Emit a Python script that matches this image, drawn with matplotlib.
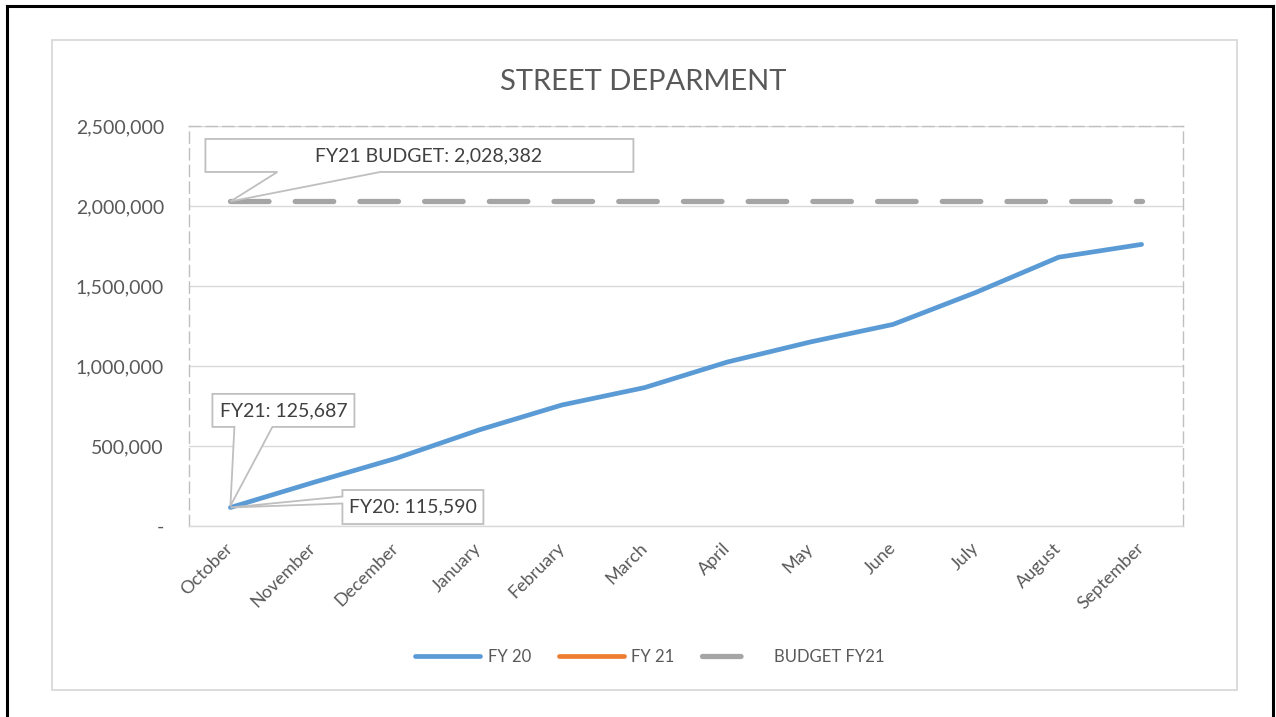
import matplotlib
matplotlib.use("Agg")
import matplotlib.pyplot as plt
import matplotlib.transforms as mtransforms
from matplotlib.lines import Line2D
from matplotlib.patches import Polygon, Rectangle
import numpy as np

# ---------------- data ----------------
months = ["October", "November", "December", "January", "February", "March",
          "April", "May", "June", "July", "August", "September"]
fy20 = [115590, 272000, 423000, 600000, 756000, 865000,
        1025000, 1150000, 1260000, 1460000, 1680000, 1760000]
fy21 = [125687, None, None, None, None, None, None, None, None, None, None, None]
budget_fy21 = [2028382] * 12
yticks = [0, 500000, 1000000, 1500000, 2000000, 2500000]
ytick_labels = ["-", "500,000", "1,000,000", "1,500,000", "2,000,000", "2,500,000"]
title = "STREET DEPARMENT"
series_names = ["FY 20", "FY 21", "BUDGET FY21"]
label_budget = "FY21 BUDGET: 2,028,382"
label_fy21 = "FY21: 125,687"
label_fy20 = "FY20: 115,590"

# ---------------- style ----------------
FONT = "Lato"
plt.rcParams["font.family"] = [FONT, "DejaVu Sans"]
BLUE = "#5B9BD5"
ORANGE = "#ED7D31"
GRAY = "#A5A5A5"
TXT = "#595959"
GRID = "#D9D9D9"

W, H, DPI = 1276, 717, 100
fig = plt.figure(figsize=(W / DPI, H / DPI), dpi=DPI)
fig.patch.set_facecolor("white")

def fx(px):
    return px / W

def fy(py):
    return 1 - py / H

# outer black frame (open at bottom)
for xs, ys in [((7, 7), (6, 717)), ((7, 1273), (6, 6)), ((1273, 1273), (6, 717))]:
    fig.add_artist(Line2D([fx(x) for x in xs], [fy(y) for y in ys],
                          transform=fig.transFigure, color="black", lw=2.2))
# chart area border
fig.add_artist(Rectangle((fx(52), fy(690)), fx(1237) - fx(52), fy(40) - fy(690),
                         transform=fig.transFigure, fill=False, ec=GRID, lw=1.3))

ax = fig.add_axes([fx(189), fy(526), fx(1183) - fx(189), fy(126) - fy(526)])
ax.set_facecolor("none")

x = np.arange(len(months))
ax.set_xlim(-0.5, len(months) - 0.5)
ax.set_ylim(0, 2500000)

# gridlines
ax.set_yticks(yticks)
ax.set_yticklabels(ytick_labels)
ax.yaxis.grid(True, color=GRID, lw=1.0)
ax.set_axisbelow(True)
ax.tick_params(axis="y", length=0, pad=18, labelsize=14, labelcolor=TXT)
ax.set_xticks(x)
ax.set_xticklabels(months, rotation=45, ha="right", va="center",
                   rotation_mode="anchor")
ax.tick_params(axis="x", length=0, pad=14, labelsize=13, labelcolor=TXT)

for side in ["top", "left", "right"]:
    ax.spines[side].set_color("#BFBFBF")
    ax.spines[side].set_linewidth(1.0)
    ax.spines[side].set_linestyle((0, (8, 4)))
ax.spines["bottom"].set_color(GRID)
ax.spines["bottom"].set_linewidth(1.0)

# series
lw = 3.4
l20, = ax.plot(x, fy20, color=BLUE, lw=lw, solid_capstyle="round",
               solid_joinstyle="round", zorder=4)
fy21_arr = np.array([np.nan if v is None else v for v in fy21], dtype=float)
l21, = ax.plot(x, fy21_arr, color=ORANGE, lw=lw, solid_capstyle="round", zorder=3)
lb, = ax.plot(x, budget_fy21, color=GRAY, lw=3.8, linestyle=(0, (7.3, 4.96)),
              dash_capstyle="round", zorder=3)

# ---------------- callouts ----------------
BOXC = "#BFBFBF"
LBLC = "#404040"

def callout(xd, yd, pts, text_off, text):
    """pts: polygon in pixel offsets (x right, y up) from the data anchor."""
    tr = mtransforms.Affine2D() + mtransforms.ScaledTranslation(xd, yd, ax.transData)
    poly = Polygon(pts, closed=True, transform=tr, fc="white", ec=BOXC,
                   lw=1.3, zorder=6, clip_on=False)
    ax.add_patch(poly)
    ax.text(text_off[0], text_off[1], text, transform=tr, ha="center",
            va="center", fontsize=14, color=LBLC, zorder=7, clip_on=False)

# budget callout
callout(0, budget_fy21[0],
        [(0, 0), (47, 29.5), (-25, 29.5), (-25, 62.5), (403, 62.5),
         (403, 29.5), (150, 29.5)],
        (198, 46), label_budget)
# FY21 callout
callout(0, fy21[0],
        [(0, 0), (4, 79), (-18, 79), (-18, 112), (124, 112), (124, 79),
         (42, 79)],
        (53, 95.5), label_fy21)
# FY20 callout
callout(0, fy20[0],
        [(0, 0), (112, 4), (112, -16.5), (253, -16.5), (253, 17.5),
         (112, 17.5), (112, 11)],
        (182.5, 0.5), label_fy20)

# title
fig.text(fx(643), fy(82), title, ha="center", va="center", fontsize=21, color=TXT)

# legend (budget handle shows a single dash, as in the original)
lb_handle = Line2D([], [], color=GRAY, lw=3.8, linestyle=(0, (7.3, 12)),
                   dash_capstyle="round")
leg = fig.legend([l20, l21, lb_handle], series_names, loc="center",
                 bbox_to_anchor=(fx(650), fy(657)), ncol=3, frameon=False,
                 fontsize=12, handlelength=3.9, handletextpad=0.45,
                 columnspacing=1.65, labelcolor=TXT)

fig.savefig("out.png", dpi=DPI, facecolor="white")
